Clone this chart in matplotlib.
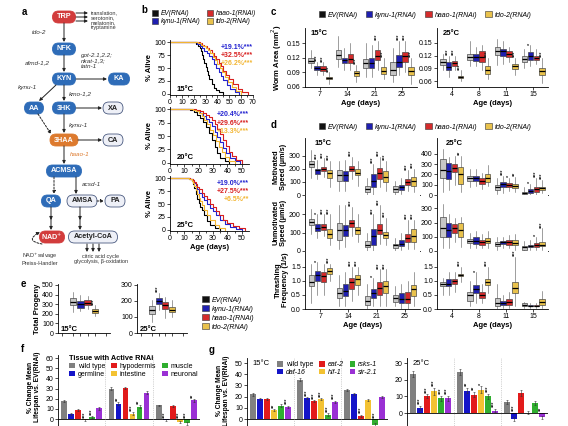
import matplotlib
matplotlib.use('Agg')
import matplotlib.pyplot as plt
from matplotlib.patches import FancyBboxPatch, Patch

plt.rcParams['font.family'] = ['Liberation Sans', 'DejaVu Sans']
plt.rcParams['font.size'] = 5
plt.rcParams['axes.linewidth'] = 0.6

# ---------------- data ----------------
strains = ['EV(RNAi)', 'kynu-1(RNAi)', 'haao-1(RNAi)', 'tdo-2(RNAi)']

# b: survival (day, % alive) per strain
surv15_days = [[0, 22, 24, 25, 26, 27, 28, 29, 30, 31, 32, 33, 35, 37, 39, 41, 45],
               [0, 23, 25, 27, 29, 31, 33, 35, 37, 39, 41, 43, 45, 48, 51, 55, 58],
               [0, 25, 27, 29, 31, 33, 35, 37, 39, 41, 43, 45, 47, 50, 53, 57, 61, 66],
               [0, 24, 26, 28, 30, 32, 34, 36, 38, 40, 42, 44, 46, 49, 52, 56, 60]]
surv15_pct = [[100, 97, 93, 88, 82, 75, 68, 60, 52, 44, 36, 28, 20, 12, 7, 3, 0],
              [100, 97, 93, 88, 83, 79, 74, 68, 58, 50, 43, 35, 27, 18, 10, 4, 0],
              [100, 98, 95, 92, 88, 84, 79, 73, 67, 60, 53, 45, 37, 28, 19, 10, 4, 0],
              [100, 98, 95, 92, 88, 84, 78, 72, 65, 57, 50, 42, 33, 23, 14, 6, 0]]
surv20_days = [[0, 14, 17, 19, 21, 23, 25, 27, 29, 31, 33, 35, 38, 41],
               [0, 16, 19, 21, 23, 25, 27, 29, 31, 33, 35, 37, 39, 42, 45, 49],
               [0, 18, 21, 23, 25, 27, 29, 31, 33, 35, 37, 39, 41, 43, 46, 50],
               [0, 16, 18, 20, 22, 24, 26, 28, 30, 32, 34, 36, 38, 41, 45]]
surv20_pct = [[100, 98, 95, 90, 84, 76, 66, 55, 43, 30, 18, 9, 3, 0],
              [100, 98, 96, 93, 88, 82, 76, 68, 58, 48, 38, 28, 18, 10, 4, 0],
              [100, 98, 96, 93, 89, 85, 80, 73, 64, 54, 43, 32, 21, 12, 5, 0],
              [100, 98, 96, 92, 87, 80, 72, 62, 52, 41, 30, 20, 11, 4, 0]]
surv25_days = [[0, 13, 15, 16, 17, 18, 19, 20, 21, 22, 24, 26, 28, 31, 35],
               [0, 14, 16, 17, 18, 19, 20, 22, 24, 26, 28, 30, 32, 35, 38, 42, 46, 50],
               [0, 14, 16, 17, 18, 19, 20, 22, 24, 26, 28, 30, 32, 34, 37, 40, 44, 48, 52],
               [0, 13, 15, 16, 17, 18, 19, 20, 21, 22, 24, 26, 28, 31, 34, 38]]
surv25_pct = [[100, 98, 94, 88, 80, 70, 60, 52, 45, 38, 28, 18, 10, 4, 0],
              [100, 98, 95, 90, 84, 78, 72, 64, 57, 50, 43, 36, 28, 20, 12, 6, 2, 0],
              [100, 98, 96, 92, 88, 83, 78, 72, 66, 59, 51, 44, 36, 28, 20, 13, 7, 3, 0],
              [100, 98, 95, 90, 84, 77, 70, 62, 56, 49, 39, 29, 19, 10, 4, 0]]
surv_notes15 = ['+19.1%***', '+32.5%***', '+26.2%***']
surv_notes20 = ['+20.4%***', '+29.6%***', '+13.3%***']
surv_notes25 = ['+19.0%***', '+27.5%***', '+6.5%**']

# c: worm area boxes (med, q1, q3, low, high) per age per strain
ages15 = [7, 14, 21, 25]
ages25 = [4, 8, 11, 15]
area15 = [[(0.114, 0.108, 0.120, 0.098, 0.135), (0.099, 0.094, 0.102, 0.085, 0.112),
           (0.097, 0.092, 0.102, 0.085, 0.110), (0.078, 0.075, 0.081, 0.065, 0.090)],
          [(0.125, 0.118, 0.135, 0.100, 0.165), (0.115, 0.108, 0.120, 0.095, 0.140),
           (0.117, 0.108, 0.127, 0.095, 0.150), (0.088, 0.083, 0.093, 0.070, 0.105)],
          [(0.108, 0.098, 0.118, 0.080, 0.150), (0.108, 0.098, 0.120, 0.080, 0.145),
           (0.124, 0.115, 0.135, 0.095, 0.155), (0.093, 0.087, 0.100, 0.075, 0.120)],
          [(0.095, 0.085, 0.110, 0.070, 0.140), (0.112, 0.100, 0.125, 0.085, 0.155),
           (0.123, 0.112, 0.132, 0.090, 0.155), (0.093, 0.085, 0.100, 0.065, 0.120)]]
area25 = [[(0.105, 0.098, 0.112, 0.085, 0.125), (0.093, 0.085, 0.105, 0.070, 0.120),
           (0.102, 0.095, 0.108, 0.085, 0.120), (0.069, 0.066, 0.073, 0.060, 0.085)],
          [(0.117, 0.110, 0.124, 0.095, 0.155), (0.117, 0.108, 0.124, 0.095, 0.140),
           (0.117, 0.105, 0.130, 0.085, 0.145), (0.085, 0.077, 0.095, 0.065, 0.115)],
          [(0.132, 0.122, 0.140, 0.098, 0.160), (0.130, 0.120, 0.135, 0.100, 0.155),
           (0.123, 0.118, 0.130, 0.105, 0.140), (0.095, 0.088, 0.100, 0.075, 0.115)],
          [(0.112, 0.105, 0.120, 0.090, 0.135), (0.120, 0.110, 0.128, 0.095, 0.145),
           (0.115, 0.110, 0.120, 0.100, 0.135), (0.083, 0.075, 0.090, 0.055, 0.115)]]
area15_stars = [[0, 3, 3, 3], [0, 0, 0, 3], [0, 0, 3, 3], [0, 3, 3, 3]]
area25_stars = [[0, 3, 3, 3], [0, 0, 0, 3], [0, 0, 0, 3], [0, 1, 0, 3]]

# d: motility boxes
mot15 = [[(240, 215, 260, 130, 340), (190, 160, 200, 120, 270), (195, 180, 215, 140, 280), (165, 130, 190, 60, 260)],
         [(150, 110, 190, 30, 260), (150, 110, 185, 30, 270), (195, 180, 220, 120, 290), (165, 150, 195, 70, 260)],
         [(45, 25, 70, 0, 130), (110, 60, 160, 0, 240), (165, 120, 205, 60, 290), (135, 100, 180, 30, 260)],
         [(45, 25, 70, 0, 110), (60, 40, 80, 10, 130), (100, 80, 125, 30, 190), (105, 70, 140, 20, 200)]]
mot25 = [[(240, 170, 350, 30, 450), (230, 160, 310, 50, 370), (260, 220, 300, 100, 380), (200, 110, 270, 30, 380)],
         [(165, 140, 185, 80, 250), (165, 140, 185, 90, 250), (140, 110, 165, 60, 210), (165, 130, 200, 90, 290)],
         [(75, 50, 100, 10, 170), (105, 80, 125, 20, 190), (95, 80, 115, 40, 170), (90, 70, 110, 30, 180)],
         [(20, 10, 30, 0, 80), (40, 20, 55, 0, 110), (55, 30, 75, 0, 170), (65, 50, 80, 20, 150)]]
unm15 = [[(160, 140, 175, 90, 230), (125, 110, 145, 70, 200), (130, 115, 145, 80, 200), (95, 70, 120, 30, 200)],
         [(115, 60, 150, 10, 250), (115, 80, 140, 20, 250), (150, 130, 170, 80, 240), (115, 95, 130, 50, 200)],
         [(35, 20, 55, 0, 100), (80, 35, 120, 0, 200), (115, 90, 145, 40, 250), (85, 70, 105, 30, 180)],
         [(30, 15, 40, 0, 70), (40, 25, 60, 5, 100), (70, 50, 90, 10, 170), (80, 50, 120, 10, 170)]]
unm25 = [[(165, 100, 240, 20, 330), (150, 100, 200, 20, 260), (165, 130, 190, 60, 230), (150, 100, 200, 30, 240)],
         [(70, 55, 85, 20, 130), (70, 50, 95, 20, 140), (60, 45, 75, 20, 120), (70, 55, 90, 20, 140)],
         [(50, 35, 65, 10, 100), (60, 50, 70, 20, 100), (60, 45, 75, 20, 110), (55, 40, 75, 10, 120)],
         [(25, 10, 35, 0, 70), (35, 25, 45, 5, 80), (40, 30, 55, 10, 100), (45, 35, 60, 10, 160)]]
thr15 = [[(0.95, 0.8, 1.2, 0.2, 1.6), (1.2, 1.0, 1.35, 0.5, 1.65), (1.15, 0.95, 1.3, 0.5, 1.6), (1.35, 1.25, 1.45, 1.0, 1.6)],
         [(0.55, 0.4, 0.75, 0.1, 1.2), (0.65, 0.45, 0.9, 0.1, 1.3), (0.95, 0.7, 1.1, 0.3, 1.5), (1.05, 0.85, 1.2, 0.5, 1.5)],
         [(0.3, 0.15, 0.45, 0.0, 0.9), (0.55, 0.4, 0.7, 0.1, 1.1), (0.75, 0.5, 0.95, 0.1, 1.4), (0.8, 0.55, 1.0, 0.1, 1.4)],
         [(0.4, 0.25, 0.5, 0.1, 0.8), (0.35, 0.2, 0.55, 0.0, 0.9), (0.35, 0.2, 0.6, 0.0, 1.0), (0.7, 0.45, 0.85, 0.1, 1.3)]]
thr25 = [[(0.9, 0.8, 0.95, 0.5, 1.1), (0.9, 0.8, 1.05, 0.5, 1.3), (1.0, 0.9, 1.05, 0.6, 1.3), (1.2, 1.15, 1.25, 0.95, 1.5)],
         [(0.5, 0.3, 0.6, 0.1, 1.0), (0.7, 0.55, 0.85, 0.2, 1.3), (0.5, 0.4, 0.6, 0.2, 0.9), (0.95, 0.85, 1.05, 0.55, 1.5)],
         [(0.2, 0.1, 0.4, 0.0, 0.9), (0.2, 0.15, 0.3, 0.05, 0.5), (0.25, 0.15, 0.35, 0.05, 0.6), (0.75, 0.55, 0.95, 0.1, 1.85)],
         [(0.15, 0.1, 0.2, 0.05, 0.25), (0.12, 0.1, 0.15, 0.05, 0.2), (0.12, 0.1, 0.15, 0.05, 0.2), (0.25, 0.15, 0.35, 0.05, 0.65)]]
mot15_stars = [[0, 3, 3, 3], [0, 0, 3, 0], [0, 3, 3, 3], [0, 0, 3, 3]]
mot25_stars = [[0, 0, 0, 2], [0, 0, 0, 0], [0, 3, 1, 2], [0, 1, 3, 3]]
unm15_stars = [[0, 1, 3, 3], [0, 0, 3, 0], [0, 3, 3, 3], [0, 0, 3, 3]]
unm25_stars = [[0, 0, 0, 0], [0, 0, 0, 0], [0, 0, 0, 0], [0, 0, 1, 3]]
thr15_stars = [[0, 1, 0, 3], [0, 0, 3, 3], [0, 1, 3, 3], [0, 0, 0, 0]]
thr25_stars = [[0, 0, 0, 3], [0, 1, 0, 3], [0, 0, 0, 3], [0, 0, 0, 0]]

# e: total progeny
prog15 = [(320, 290, 360, 220, 430), (300, 260, 330, 230, 400), (310, 290, 340, 250, 390), (230, 210, 250, 180, 290)]
prog25 = [(145, 120, 170, 70, 205), (200, 180, 220, 145, 250), (175, 150, 195, 95, 225), (145, 130, 160, 100, 205)]
prog15_stars = [0, 0, 0, 3]
prog25_stars = [0, 3, 0, 0]

# f: tissue-specific RNAi, % change mean lifespan
tissues = ['wild type', 'germline', 'hypodermis', 'intestine', 'muscle', 'neuronal']
f_vals = [[18, 5, 9, -1, 2, 10.5], [30, 15, 31, 5, 12, 26], [13.5, -1, 13, -3, -4, 18.5]]
f_err = [[1, 1.2, 1, 0.8, 1.2, 1.2], [1.2, 1.5, 1, 1.5, 1.5, 1.2], [0.8, 1, 1, 1, 1.5, 1.5]]
f_stars = [[0, 0, 0, 3, 3, 0], [0, 2, 0, 3, 2, 0], [0, 3, 0, 3, 3, 2]]

# g: mutants
mutants = ['wild type', 'daf-16', 'eat-2', 'hif-1', 'rsks-1', 'sir-2.1']
g15_vals = [[22, 18, 18, 8, 12, 11], [35, 18.5, 16, 18, 4, 15.5], [26, 22.5, 3, 17, -5, 20]]
g15_err = [[1.5, 1, 1, 1, 1, 1], [1.2, 1, 1, 1, 1, 1], [1.2, 1, 1, 1, 1.5, 1]]
g15_stars = [[0, 0, 0, 2, 0, 3], [0, 3, 3, 3, 3, 3], [0, 0, 3, 0, 3, 0]]
g25_vals = [[23.5, 3, 10, 13, 9, 9], [24.5, 13.5, 11, 14, 10, 1.5], [6.5, -3.5, 12, 0.3, 6, -2.5]]
g25_err = [[2, 1.2, 1.2, 2, 1.5, 1.5], [1.8, 1.5, 1.5, 2, 1.5, 1], [1.2, 1.2, 2, 1, 1, 1]]
g25_stars = [[0, 3, 3, 3, 3, 3], [0, 2, 2, 1, 3, 3], [0, 3, 0, 0, 0, 2]]

# ---------------- styling ----------------
W, H = 568, 426
fig = plt.figure(figsize=(W / 100, H / 100), dpi=100)

box_colors = ['#c6c6c6', '#1f1fb0', '#d42b2b', '#e9c24c']
leg_colors = ['#111111', '#1f1fb0', '#d42b2b', '#e9c24c']
line_colors = ['#000000', '#2323d0', '#d81f1f', '#f2b531']
bar_colors = ['#808080', '#1414c8', '#e21b1b', '#f3c232', '#2fae2f', '#9a30d4']


def px_axes(l, t, r, b):
    return fig.add_axes([l / W, 1 - b / H, (r - l) / W, (b - t) / H])


def ftext(x, y, s, **kw):
    fig.text(x / W, 1 - y / H, s, **kw)


def style(ax):
    ax.spines['top'].set_visible(False)
    ax.spines['right'].set_visible(False)
    ax.tick_params(length=2, width=0.5, labelsize=5, pad=1)


def stars(ax, x, y, n, color='#222222'):
    if n:
        ax.text(x, y, '*' * n, rotation=90, fontsize=4, ha='center', va='bottom',
                color=color, fontweight='bold')


def boxes(ax, groups, star_grid, yr):
    offs = [-0.33, -0.11, 0.11, 0.33]
    for i, grp in enumerate(groups):
        for j, (med, q1, q3, lo, hi) in enumerate(grp):
            pos = i + 1 + offs[j]
            ax.bxp([dict(med=med, q1=q1, q3=q3, whislo=lo, whishi=hi, fliers=[])],
                   positions=[pos], widths=0.19, patch_artist=True, showfliers=False,
                   showcaps=False, manage_ticks=False,
                   boxprops=dict(facecolor=box_colors[j], edgecolor='#3a3a3a', linewidth=0.45),
                   medianprops=dict(color='black', linewidth=0.9),
                   whiskerprops=dict(color='#555555', linewidth=0.4))
            stars(ax, pos, hi + yr * 0.01, star_grid[i][j])


def bars(ax, groups, errs, star_grid):
    for i, grp in enumerate(groups):
        for j, v in enumerate(grp):
            pos = i + 1 + (j - 2.5) * 0.148
            ax.bar(pos, v, width=0.125, color=bar_colors[j], edgecolor='none')
            e = errs[i][j]
            ax.errorbar(pos, v, yerr=e, color='#333333', elinewidth=0.4, capsize=1, capthick=0.4)
            top = v + e if v >= 0 else max(v + e, 0)
            stars(ax, pos, top + 1, star_grid[i][j])
    ax.axhline(0, color='black', lw=0.6)
    for xs in [1.5, 2.5]:
        ax.axvline(xs, color='#aaaaaa', lw=0.5, ls=':')
    ax.set_xlim(0.5, 3.5)
    ax.set_xticks([])
    ax.spines['bottom'].set_visible(False)


# ---------------- panel a: pathway ----------------
axa = px_axes(0, 0, 140, 290)
axa.set_xlim(0, 140)
axa.set_ylim(290, 0)
axa.axis('off')
node_fill = {'red': '#d23c3c', 'blue': '#2e6cb8', 'orange': '#dd7a2e', 'light': '#eef0f7'}
nodes = [('TRP', 64, 17, 23, 'red'), ('NFK', 64, 49, 23, 'blue'), ('KYN', 64, 79, 23, 'blue'),
         ('KA', 119, 79, 21, 'blue'), ('AA', 34, 108, 19, 'blue'), ('3HK', 64, 108, 23, 'blue'),
         ('XA', 113, 108, 20, 'light'), ('3HAA', 64, 140, 28, 'orange'), ('CA', 113, 140, 20, 'light'),
         ('ACMSA', 64, 171, 35, 'blue'), ('QA', 51, 201, 19, 'blue'), ('AMSA', 82, 201, 30, 'light'),
         ('PA', 115, 201, 20, 'light'), ('NAD$^{+}$', 52, 237, 25, 'red'),
         ('Acetyl-CoA', 93, 237, 49, 'light')]
for name, x, y, w, kind in nodes:
    fc = node_fill[kind]
    ec = '#4a5a80' if kind == 'light' else fc
    axa.add_patch(FancyBboxPatch((x - w / 2, y - 6), w, 12, boxstyle='round,pad=0,rounding_size=6',
                                 fc=fc, ec=ec, lw=0.6))
    axa.text(x, y, name, ha='center', va='center', fontsize=5.2, fontweight='bold',
             color='#222222' if kind == 'light' else 'white')


def arrow(p0, p1, dashed=False, rad=0.0):
    axa.annotate('', xy=p1, xytext=p0,
                 arrowprops=dict(arrowstyle='-|>', lw=0.7, color='#222222', mutation_scale=4.5,
                                 linestyle=(0, (2, 1.5)) if dashed else '-', shrinkA=0, shrinkB=0,
                                 connectionstyle=f'arc3,rad={rad}'))


arrow((64, 23), (64, 42))
arrow((64, 55), (64, 72))
arrow((76, 79), (107, 79))
arrow((56, 85), (39, 101))
arrow((64, 85), (64, 101))
arrow((76, 108), (102, 108))
arrow((38, 114), (51, 134), dashed=True)
arrow((64, 114), (64, 133))
arrow((78, 140), (102, 140))
arrow((64, 146), (64, 164))
arrow((54, 177), (54, 194), dashed=True)
arrow((76, 177), (76, 194))
arrow((97, 201), (104, 201), dashed=True)
for xx in [51, 80]:
    arrow((xx, 207), (xx, 220))
    arrow((xx, 218), (xx, 230))
for xx in [87, 93, 99]:
    arrow((xx, 244), (xx, 252))
for yy in [13, 17, 21]:
    arrow((76, yy), (88, yy))
arrow((42, 244), (40, 232), dashed=True, rad=-1.4)
axa.text(91, 10, 'translation,\nserotonin,\nmelatonin,\ntryptamine', fontsize=4, va='top',
         linespacing=1.0, color='#333333')
gene_kw = dict(fontsize=4.6, style='italic', color='#333333', va='center')
axa.text(39, 33, 'tdo-2', ha='center', **gene_kw)
axa.text(37, 63, 'afmd-1,2', ha='center', **gene_kw)
axa.text(81, 61, 'got-2.1,2.2;\nnkat-1,3;\ntatn-1', ha='left', linespacing=1.0, **gene_kw)
axa.text(27, 88, 'kynu-1', ha='center', **gene_kw)
axa.text(69, 94, 'kmo-1,2', ha='left', **gene_kw)
axa.text(69, 125, 'kynu-1', ha='left', **gene_kw)
axa.text(70, 155, 'haao-1', ha='left', fontsize=4.6, style='italic', color='#dd7a2e', va='center')
axa.text(82, 185, 'acsd-1', ha='left', **gene_kw)
axa.text(40, 259, 'NAD$^{+}$salvage\nPreiss-Handler', ha='center', va='center', fontsize=4,
         linespacing=1.0, color='#333333')
axa.text(101, 259, 'citric acid cycle\nglycolysis, \u03b2-oxidation', ha='center', va='center',
         fontsize=4, linespacing=1.0, color='#333333')

# ---------------- panel b: survival ----------------
surv_sets = [(surv15_days, surv15_pct, surv_notes15, '15\u00b0C', 40, 95, 253, 70, range(0, 71, 10)),
             (surv20_days, surv20_pct, surv_notes20, '20\u00b0C', 107, 164, 249, 55, range(0, 51, 10)),
             (surv25_days, surv25_pct, surv_notes25, '25\u00b0C', 176, 231, 249, 55, range(0, 51, 10))]
for days, pct, notes, temp, t, b, r, xmax, xt in surv_sets:
    ax = px_axes(170, t, r, b)
    style(ax)
    for k in range(4):
        ax.step(days[k], pct[k], where='post', color=line_colors[k], lw=0.8)
    ax.set_xlim(0, xmax)
    ax.set_ylim(-2, 104)
    ax.set_xticks(list(xt))
    ax.set_xticks(list(range(5, xmax, 10)), minor=True)
    ax.tick_params(which='minor', length=1.5, width=0.5)
    ax.set_yticks([0, 25, 50, 75, 100])
    ax.set_ylabel('% Alive', fontsize=5.5, fontweight='bold', labelpad=1)
    ax.text(0.08, 0.08, temp, transform=ax.transAxes, fontsize=5.5, fontweight='bold')
    for k, note in enumerate(notes):
        ax.text(1.0, 0.93 - k * 0.15, note, transform=ax.transAxes, ha='right', va='top',
                fontsize=5, fontweight='bold', color=line_colors[k + 1])
ax.set_xlabel('Age (days)', fontsize=5.5, fontweight='bold', labelpad=1)

handles = [Patch(facecolor=c, edgecolor='#333333', lw=0.4) for c in leg_colors]
fig.legend(handles, strains, ncol=2, loc='upper left', bbox_to_anchor=(146 / W, 1 - 4 / H),
           frameon=False, prop={'style': 'italic', 'size': 4.8},
           handlelength=0.9, handleheight=0.9, handletextpad=0.4, columnspacing=1.0,
           labelspacing=0.2)

# ---------------- panel c: worm area ----------------
fig.legend(handles, strains, ncol=4, loc='center', bbox_to_anchor=(425 / W, 1 - 15 / H),
           frameon=False, prop={'style': 'italic', 'size': 5}, handlelength=0.9,
           handleheight=0.9, handletextpad=0.4, columnspacing=1.2)
for groups, st, ages, temp, l, r, ylim, yt in [
        (area15, area15_stars, ages15, '15\u00b0C', 305, 417, (0.0595, 0.181), [0.06, 0.09, 0.12, 0.15]),
        (area25, area25_stars, ages25, '25\u00b0C', 437, 548, (0.0458, 0.1855), [0.06, 0.09, 0.12, 0.15])]:
    ax = px_axes(l, 28, r, 87)
    style(ax)
    boxes(ax, groups, st, ylim[1] - ylim[0])
    ax.set_xlim(0.45, 4.55)
    ax.set_ylim(*ylim)
    ax.set_yticks(yt)
    ax.set_yticklabels([f'{v:.2f}' for v in yt])
    ax.set_xticks(range(1, 5))
    ax.set_xticklabels(ages)
    ax.set_xlabel('Age (days)', fontsize=5.5, fontweight='bold', labelpad=1)
    ax.text(0.05, 0.97, temp, transform=ax.transAxes, fontsize=5.5, fontweight='bold', va='top')
    if l == 305:
        ax.set_ylabel('Worm Area (mm$^{2}$)', fontsize=5.5, fontweight='bold', labelpad=2)

# ---------------- panel d: motility ----------------
fig.legend(handles, strains, ncol=4, loc='center', bbox_to_anchor=(425 / W, 1 - 127 / H),
           frameon=False, prop={'style': 'italic', 'size': 5}, handlelength=0.9,
           handleheight=0.9, handletextpad=0.4, columnspacing=1.2)
d_rows = [(mot15, mot15_stars, mot25, mot25_stars, 138, 195, 435, 556,
           [0, 100, 200, 300], [0, 100, 200, 300, 400], 'Motivated\nSpeed (\u00b5m/s)'),
          (unm15, unm15_stars, unm25, unm25_stars, 195, 251, 305, 394,
           [0, 100, 200], [0, 100, 200, 300], 'Unmotivated\nSpeed (\u00b5m/s)'),
          (thr15, thr15_stars, thr25, thr25_stars, 251, 309, 2.05, 2.05,
           [0.0, 0.5, 1.0, 1.5], [0.0, 0.5, 1.0, 1.5], 'Thrashing\nFrequency (1/s)')]
for ri, (g15, s15, g25, s25, t, b, ym15, ym25, yt15, yt25, lab) in enumerate(d_rows):
    for groups, st, ages, ymax, yt, l, r, temp in [(g15, s15, ages15, ym15, yt15, 305, 420, '15\u00b0C'),
                                                   (g25, s25, ages25, ym25, yt25, 437, 548, '25\u00b0C')]:
        ax = px_axes(l, t, r, b)
        style(ax)
        boxes(ax, groups, st, ymax)
        ax.set_xlim(0.45, 4.55)
        ax.set_ylim(0, ymax)
        ax.set_yticks(yt)
        if ri == 2:
            ax.set_yticklabels([f'{v:.1f}' for v in yt])
        ax.set_xticks(range(1, 5))
        if ri == 2:
            ax.set_xticklabels(ages)
            ax.set_xlabel('Age (days)', fontsize=5.5, fontweight='bold', labelpad=1)
        else:
            ax.set_xticklabels([])
        if ri == 0:
            ax.text(0.08, 0.97, temp, transform=ax.transAxes, fontsize=5.5, fontweight='bold', va='top')
        if l == 305:
            ax.set_ylabel(lab, fontsize=5.3, fontweight='bold', labelpad=1.5, linespacing=1.0)

# ---------------- panel e: progeny ----------------
for data, st, temp, l, r, ymax, yt in [(prog15, prog15_stars, '15\u00b0C', 58, 110, 510, range(0, 501, 100)),
                                       (prog25, prog25_stars, '25\u00b0C', 137, 187, 306, range(0, 301, 100))]:
    ax = px_axes(l, 284, r, 333)
    style(ax)
    boxes(ax, [data], [st], ymax)
    ax.set_xlim(0.2, 1.8)
    ax.set_ylim(0, ymax)
    ax.set_yticks(list(yt))
    ax.set_xticks([0.33, 0.67, 0.89, 1.11, 1.33, 1.67])
    ax.set_xticklabels([])
    ax.text(0.05, 0.05, temp, transform=ax.transAxes, fontsize=5.5, fontweight='bold')
    if l == 58:
        ax.set_ylabel('Total Progeny', fontsize=5.5, fontweight='bold', labelpad=1)
fig.legend(handles, strains, ncol=1, loc='upper left', bbox_to_anchor=(196 / W, 1 - 290 / H),
           frameon=False, prop={'style': 'italic', 'size': 5}, handlelength=0.9,
           handleheight=0.9, handletextpad=0.5, labelspacing=0.25)

# ---------------- panel f: tissue-specific ----------------
axf = px_axes(58, 355, 200, 440)
style(axf)
bars(axf, f_vals, f_err, f_stars)
axf.set_ylim(-20.6, 63)
axf.set_yticks(range(0, 61, 10))
axf.set_ylabel('% Change Mean\nLifespan vs. EV(RNAi)', fontsize=4.8, fontweight='bold',
               linespacing=1.0)
axf.yaxis.set_label_coords(-0.12, 0.62)
bar_handles = [Patch(facecolor=c) for c in bar_colors]
fig.legend(bar_handles, tissues, ncol=3, loc='upper left', bbox_to_anchor=(63 / W, 1 - 349 / H),
           frameon=False, fontsize=5, title='Tissue with Active RNAi', alignment='left',
           title_fontproperties={'weight': 'bold', 'size': 5.3}, handlelength=0.8,
           handleheight=0.8, handletextpad=0.4, columnspacing=0.9, labelspacing=0.1)

# ---------------- panel g: mutants ----------------
axg1 = px_axes(247, 358, 388, 440)
style(axg1)
bars(axg1, g15_vals, g15_err, g15_stars)
axg1.set_ylim(-18.75, 54.5)
axg1.set_yticks(range(0, 51, 10))
axg1.text(0.04, 0.97, '15\u00b0C', transform=axg1.transAxes, fontsize=5.5, va='top')
axg1.set_ylabel('% Change Mean\nLifespan vs. EV(RNAi)', fontsize=4.8, fontweight='bold',
                linespacing=1.0)
axg1.yaxis.set_label_coords(-0.12, 0.6)
axg2 = px_axes(407, 358, 548, 440)
style(axg2)
bars(axg2, g25_vals, g25_err, g25_stars)
axg2.set_ylim(-16.2, 33)
axg2.set_yticks(range(0, 31, 10))
axg2.text(0.04, 0.97, '25\u00b0C', transform=axg2.transAxes, fontsize=5.5, va='top')
leg = fig.legend(bar_handles, mutants, ncol=3, loc='upper left', bbox_to_anchor=(271 / W, 1 - 355 / H),
                 frameon=False, prop={'style': 'italic', 'size': 5}, handlelength=0.8,
                 handleheight=0.8, handletextpad=0.4, columnspacing=0.9, labelspacing=0.1)
leg.get_texts()[0].set_style('normal')

# ---------------- panel letters ----------------
for letter, x, y in [('a', 22, 12), ('b', 141, 10), ('c', 271, 12), ('d', 271, 125),
                     ('e', 21, 284), ('f', 21, 349), ('g', 209, 350)]:
    ftext(x, y, letter, fontsize=7, fontweight='bold', va='center')

fig.savefig('out.png', dpi=100)
